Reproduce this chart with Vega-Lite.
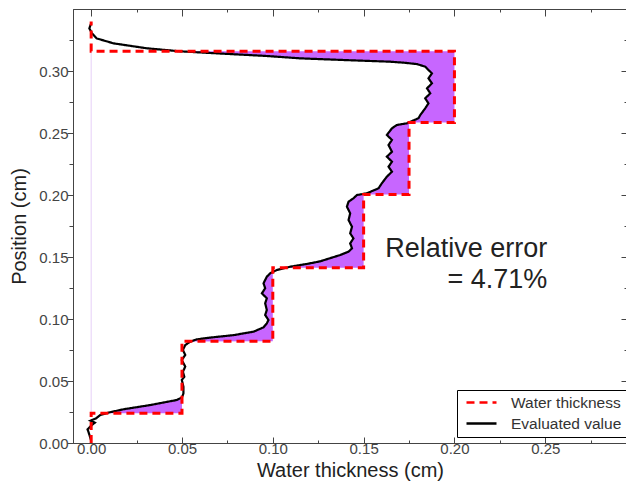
{
  "$schema": "https://vega.github.io/schema/vega-lite/v6.json",
  "width": 554,
  "height": 434,
  "autosize": {"type": "none"},
  "padding": {"left": 73, "top": 9, "right": 0, "bottom": 46},
  "background": "white",
  "config": {
    "font": "Liberation Sans",
    "view": {"stroke": "#444", "strokeWidth": 1},
    "axis": {
      "grid": false,
      "domainColor": "#444",
      "tickColor": "#444",
      "labelColor": "#444",
      "labelFontSize": 15,
      "labelFont": "Liberation Sans",
      "titleFont": "Liberation Sans",
      "titleFontSize": 20,
      "titleFontWeight": "normal",
      "titleColor": "#222"
    },
    "legend": {
      "labelFontSize": 15.5,
      "labelColor": "#333",
      "labelFont": "Liberation Sans",
      "strokeColor": "#000",
      "fillColor": "white",
      "padding": 5,
      "clipHeight": 15,
      "rowPadding": 5,
      "symbolType": "stroke",
      "symbolSize": 900,
      "symbolStrokeWidth": 2.5,
      "symbolOffset": 3,
      "labelOffset": 13
    }
  },
  "datasets": {
    "profile": [
      {"i": 1, "y": 0.002, "ev": 0.0, "wt": 0.0},
      {"i": 2, "y": 0.009, "ev": -0.0015, "wt": -0.0015},
      {"i": 3, "y": 0.011, "ev": -0.002, "wt": -0.002},
      {"i": 4, "y": 0.0148, "ev": 0.0006, "wt": 0.0006},
      {"i": 5, "y": 0.0164, "ev": 0.002, "wt": 0.002},
      {"i": 6, "y": 0.018, "ev": -0.0004, "wt": -0.0004},
      {"i": 7, "y": 0.0198, "ev": 0.0026, "wt": 0.0026},
      {"i": 8, "y": 0.0226, "ev": 0.005, "wt": 0.005},
      {"i": 9, "y": 0.0239, "ev": 0.0081, "wt": 0.0081},
      {"i": 10, "y": 0.024, "ev": 0.0082, "wt": 0.05},
      {"i": 11, "y": 0.0245, "ev": 0.0094, "wt": 0.05},
      {"i": 12, "y": 0.0272, "ev": 0.0178, "wt": 0.05},
      {"i": 13, "y": 0.0306, "ev": 0.0325, "wt": 0.05},
      {"i": 14, "y": 0.0347, "ev": 0.0472, "wt": 0.05},
      {"i": 15, "y": 0.0368, "ev": 0.05, "wt": 0.05},
      {"i": 16, "y": 0.04, "ev": 0.0508, "wt": 0.0508},
      {"i": 17, "y": 0.0454, "ev": 0.0508, "wt": 0.0508},
      {"i": 18, "y": 0.0508, "ev": 0.0499, "wt": 0.05},
      {"i": 19, "y": 0.0534, "ev": 0.0513, "wt": 0.0513},
      {"i": 20, "y": 0.0574, "ev": 0.0505, "wt": 0.0505},
      {"i": 21, "y": 0.0616, "ev": 0.0518, "wt": 0.0518},
      {"i": 22, "y": 0.0669, "ev": 0.0499, "wt": 0.05},
      {"i": 23, "y": 0.071, "ev": 0.0518, "wt": 0.0518},
      {"i": 24, "y": 0.075, "ev": 0.0505, "wt": 0.0505},
      {"i": 25, "y": 0.079, "ev": 0.0518, "wt": 0.0518},
      {"i": 26, "y": 0.0817, "ev": 0.0545, "wt": 0.0545},
      {"i": 27, "y": 0.0819, "ev": 0.0549, "wt": 0.0549},
      {"i": 28, "y": 0.082, "ev": 0.055, "wt": 0.1},
      {"i": 29, "y": 0.0836, "ev": 0.0582, "wt": 0.1},
      {"i": 30, "y": 0.085, "ev": 0.0655, "wt": 0.1},
      {"i": 31, "y": 0.087, "ev": 0.0784, "wt": 0.1},
      {"i": 32, "y": 0.0898, "ev": 0.0895, "wt": 0.1},
      {"i": 33, "y": 0.0933, "ev": 0.0949, "wt": 0.1},
      {"i": 34, "y": 0.0965, "ev": 0.0967, "wt": 0.1},
      {"i": 35, "y": 0.0992, "ev": 0.0976, "wt": 0.1},
      {"i": 36, "y": 0.1032, "ev": 0.0958, "wt": 0.1},
      {"i": 37, "y": 0.1073, "ev": 0.0967, "wt": 0.1},
      {"i": 38, "y": 0.1126, "ev": 0.0958, "wt": 0.1},
      {"i": 39, "y": 0.1167, "ev": 0.0967, "wt": 0.1},
      {"i": 40, "y": 0.1207, "ev": 0.094, "wt": 0.1},
      {"i": 41, "y": 0.1248, "ev": 0.0958, "wt": 0.1},
      {"i": 42, "y": 0.1288, "ev": 0.0949, "wt": 0.1},
      {"i": 43, "y": 0.1341, "ev": 0.0967, "wt": 0.1},
      {"i": 44, "y": 0.1368, "ev": 0.0985, "wt": 0.1},
      {"i": 45, "y": 0.1395, "ev": 0.1022, "wt": 0.1022},
      {"i": 46, "y": 0.1413, "ev": 0.1071, "wt": 0.1071},
      {"i": 47, "y": 0.1414, "ev": 0.1074, "wt": 0.15},
      {"i": 48, "y": 0.1422, "ev": 0.1096, "wt": 0.15},
      {"i": 49, "y": 0.1444, "ev": 0.1188, "wt": 0.15},
      {"i": 50, "y": 0.1465, "ev": 0.126, "wt": 0.15},
      {"i": 51, "y": 0.1516, "ev": 0.1371, "wt": 0.15},
      {"i": 52, "y": 0.1543, "ev": 0.1417, "wt": 0.15},
      {"i": 53, "y": 0.157, "ev": 0.1436, "wt": 0.15},
      {"i": 54, "y": 0.161, "ev": 0.1426, "wt": 0.15},
      {"i": 55, "y": 0.165, "ev": 0.1444, "wt": 0.15},
      {"i": 56, "y": 0.1691, "ev": 0.1426, "wt": 0.15},
      {"i": 57, "y": 0.1744, "ev": 0.1436, "wt": 0.15},
      {"i": 58, "y": 0.1798, "ev": 0.1417, "wt": 0.15},
      {"i": 59, "y": 0.1852, "ev": 0.1426, "wt": 0.15},
      {"i": 60, "y": 0.1906, "ev": 0.1408, "wt": 0.15},
      {"i": 61, "y": 0.1946, "ev": 0.1417, "wt": 0.15},
      {"i": 62, "y": 0.1973, "ev": 0.1444, "wt": 0.15},
      {"i": 63, "y": 0.2, "ev": 0.1463, "wt": 0.15},
      {"i": 64, "y": 0.2004, "ev": 0.1481, "wt": 0.15},
      {"i": 65, "y": 0.2005, "ev": 0.1483, "wt": 0.175},
      {"i": 66, "y": 0.2014, "ev": 0.1518, "wt": 0.175},
      {"i": 67, "y": 0.2054, "ev": 0.1582, "wt": 0.175},
      {"i": 68, "y": 0.2094, "ev": 0.16, "wt": 0.175},
      {"i": 69, "y": 0.2148, "ev": 0.1628, "wt": 0.175},
      {"i": 70, "y": 0.2188, "ev": 0.1656, "wt": 0.175},
      {"i": 71, "y": 0.2228, "ev": 0.1637, "wt": 0.175},
      {"i": 72, "y": 0.2269, "ev": 0.1656, "wt": 0.175},
      {"i": 73, "y": 0.2309, "ev": 0.1628, "wt": 0.175},
      {"i": 74, "y": 0.2349, "ev": 0.1656, "wt": 0.175},
      {"i": 75, "y": 0.2403, "ev": 0.1637, "wt": 0.175},
      {"i": 76, "y": 0.2444, "ev": 0.1656, "wt": 0.175},
      {"i": 77, "y": 0.2484, "ev": 0.1628, "wt": 0.175},
      {"i": 78, "y": 0.2538, "ev": 0.1656, "wt": 0.175},
      {"i": 79, "y": 0.2565, "ev": 0.1683, "wt": 0.175},
      {"i": 80, "y": 0.2578, "ev": 0.1738, "wt": 0.175},
      {"i": 81, "y": 0.2584, "ev": 0.1747, "wt": 0.175},
      {"i": 82, "y": 0.2585, "ev": 0.1749, "wt": 0.2},
      {"i": 83, "y": 0.2619, "ev": 0.1802, "wt": 0.2},
      {"i": 84, "y": 0.2645, "ev": 0.1812, "wt": 0.2},
      {"i": 85, "y": 0.2699, "ev": 0.1839, "wt": 0.2},
      {"i": 86, "y": 0.2739, "ev": 0.1857, "wt": 0.2},
      {"i": 87, "y": 0.278, "ev": 0.1839, "wt": 0.2},
      {"i": 88, "y": 0.282, "ev": 0.1867, "wt": 0.2},
      {"i": 89, "y": 0.286, "ev": 0.1849, "wt": 0.2},
      {"i": 90, "y": 0.2901, "ev": 0.1876, "wt": 0.2},
      {"i": 91, "y": 0.2941, "ev": 0.1857, "wt": 0.2},
      {"i": 92, "y": 0.2981, "ev": 0.1876, "wt": 0.2},
      {"i": 93, "y": 0.3008, "ev": 0.1857, "wt": 0.2},
      {"i": 94, "y": 0.3035, "ev": 0.1839, "wt": 0.2},
      {"i": 95, "y": 0.3056, "ev": 0.1793, "wt": 0.2},
      {"i": 96, "y": 0.3067, "ev": 0.172, "wt": 0.2},
      {"i": 97, "y": 0.3075, "ev": 0.1646, "wt": 0.2},
      {"i": 98, "y": 0.3088, "ev": 0.14, "wt": 0.2},
      {"i": 99, "y": 0.3102, "ev": 0.1151, "wt": 0.2},
      {"i": 100, "y": 0.3121, "ev": 0.0967, "wt": 0.2},
      {"i": 101, "y": 0.3148, "ev": 0.062, "wt": 0.2},
      {"i": 102, "y": 0.3159, "ev": 0.0488, "wt": 0.2},
      {"i": 103, "y": 0.316, "ev": 0.048, "wt": 0.048},
      {"i": 104, "y": 0.3183, "ev": 0.0307, "wt": 0.0307},
      {"i": 105, "y": 0.3223, "ev": 0.0123, "wt": 0.0123},
      {"i": 106, "y": 0.3263, "ev": 0.003, "wt": 0.003},
      {"i": 107, "y": 0.3304, "ev": 0.0004, "wt": 0.0004},
      {"i": 108, "y": 0.3344, "ev": -0.001, "wt": -0.001},
      {"i": 109, "y": 0.3385, "ev": 0.0, "wt": 0.0}
    ],
    "water": [
      {"i": 1, "x": 0, "y": 0},
      {"i": 2, "x": 0, "y": 0.024},
      {"i": 3, "x": 0.05, "y": 0.024},
      {"i": 4, "x": 0.05, "y": 0.082},
      {"i": 5, "x": 0.1, "y": 0.082},
      {"i": 6, "x": 0.1, "y": 0.1414},
      {"i": 7, "x": 0.15, "y": 0.1414},
      {"i": 8, "x": 0.15, "y": 0.2005},
      {"i": 9, "x": 0.175, "y": 0.2005},
      {"i": 10, "x": 0.175, "y": 0.2585},
      {"i": 11, "x": 0.2, "y": 0.2585},
      {"i": 12, "x": 0.2, "y": 0.316},
      {"i": 13, "x": 0, "y": 0.316},
      {"i": 14, "x": 0, "y": 0.34}
    ],
    "edge": [
      {"x": 0, "y": 0.024, "y2": 0.316}
    ],
    "notes": [
      {"x": 0.2511, "y": 0.15, "label": "Relative error"},
      {"x": 0.2511, "y": 0.125, "label": "= 4.71%"}
    ]
  },
  "layer": [
    {
      "data": {"name": "profile"},
      "mark": {"type": "area", "orient": "horizontal", "color": "#c766ff"},
      "encoding": {
        "y": {
          "field": "y", "type": "quantitative",
          "scale": {"domain": [0, 0.35], "nice": false, "zero": false},
          "axis": {"orient": "left", "values": [0, 0.05, 0.1, 0.15, 0.2, 0.25, 0.3], "format": ".2f", "tickSize": 6, "labelPadding": -1, "title": "Position (cm)", "titlePadding": 9}
        },
        "x": {
          "field": "ev", "type": "quantitative",
          "scale": {"domain": [-0.01, 0.295], "nice": false, "zero": false},
          "axis": {"orient": "bottom", "values": [0, 0.05, 0.1, 0.15, 0.2, 0.25], "format": ".2f", "tickSize": -6, "labelPadding": 4, "title": "Water thickness (cm)", "titlePadding": 4}
        },
        "x2": {"field": "wt"}
      }
    },
    {
      "data": {"name": "edge"},
      "mark": {"type": "rule", "color": "#e6cff7", "strokeWidth": 1},
      "encoding": {
        "x": {
          "field": "x", "type": "quantitative",
          "scale": {"domain": [-0.01, 0.295], "nice": false, "zero": false},
          "axis": {"orient": "bottom", "values": [0.025, 0.075, 0.125, 0.175, 0.225, 0.275], "tickSize": -3, "labels": false, "domain": false, "title": null}
        },
        "y": {
          "field": "y", "type": "quantitative",
          "scale": {"domain": [0, 0.35], "nice": false, "zero": false},
          "axis": {"orient": "left", "values": [0.025, 0.075, 0.125, 0.175, 0.225, 0.275, 0.325], "tickSize": 4, "labels": false, "domain": false, "title": null}
        },
        "y2": {"field": "y2"}
      }
    },
    {
      "data": {"name": "profile"},
      "mark": {"type": "line", "strokeWidth": 2.2},
      "encoding": {
        "x": {
          "field": "ev", "type": "quantitative",
          "scale": {"domain": [-0.01, 0.295], "nice": false, "zero": false},
          "axis": {"orient": "top", "values": [0, 0.05, 0.1, 0.15, 0.2, 0.25], "tickSize": -7, "labels": false, "title": null}
        },
        "y": {
          "field": "y", "type": "quantitative",
          "scale": {"domain": [0, 0.35], "nice": false, "zero": false},
          "axis": {"orient": "right", "values": [0, 0.05, 0.1, 0.15, 0.2, 0.25, 0.3], "tickSize": -6, "labels": false, "title": null}
        },
        "order": {"field": "i", "type": "quantitative"},
        "color": {
          "datum": "Evaluated value",
          "scale": {"domain": ["Water thickness", "Evaluated value"], "range": ["#ff0000", "#000000"]},
          "legend": {"title": null, "orient": "none", "legendX": 384, "legendY": 381}
        },
        "strokeDash": {
          "datum": "Evaluated value",
          "scale": {"domain": ["Water thickness", "Evaluated value"], "range": [[8, 5], [1, 0]]},
          "legend": {"title": null, "orient": "none", "legendX": 384, "legendY": 381}
        }
      }
    },
    {
      "data": {"name": "water"},
      "mark": {"type": "line", "strokeWidth": 3},
      "encoding": {
        "x": {
          "field": "x", "type": "quantitative",
          "scale": {"domain": [-0.01, 0.295], "nice": false, "zero": false},
          "axis": {"orient": "top", "values": [0.025, 0.075, 0.125, 0.175, 0.225, 0.275], "tickSize": -3, "labels": false, "domain": false, "title": null}
        },
        "y": {
          "field": "y", "type": "quantitative",
          "scale": {"domain": [0, 0.35], "nice": false, "zero": false},
          "axis": {"orient": "right", "values": [0.025, 0.075, 0.125, 0.175, 0.225, 0.275, 0.325], "tickSize": -3, "labels": false, "domain": false, "title": null}
        },
        "order": {"field": "i", "type": "quantitative"},
        "color": {
          "datum": "Water thickness",
          "scale": {"domain": ["Water thickness", "Evaluated value"], "range": ["#ff0000", "#000000"]},
          "legend": {"title": null, "orient": "none", "legendX": 384, "legendY": 381}
        },
        "strokeDash": {
          "datum": "Water thickness",
          "scale": {"domain": ["Water thickness", "Evaluated value"], "range": [[8, 5], [1, 0]]},
          "legend": {"title": null, "orient": "none", "legendX": 384, "legendY": 381}
        }
      }
    },
    {
      "data": {"name": "notes"},
      "mark": {"type": "text", "align": "right", "baseline": "alphabetic", "fontSize": 27, "color": "#222", "font": "Liberation Sans"},
      "encoding": {
        "x": {"field": "x", "type": "quantitative", "scale": {"domain": [-0.01, 0.295], "nice": false, "zero": false}, "axis": null},
        "y": {"field": "y", "type": "quantitative", "scale": {"domain": [0, 0.35], "nice": false, "zero": false}, "axis": null},
        "text": {"field": "label", "type": "nominal"}
      }
    }
  ],
  "resolve": {"axis": {"x": "independent", "y": "independent"}}
}
